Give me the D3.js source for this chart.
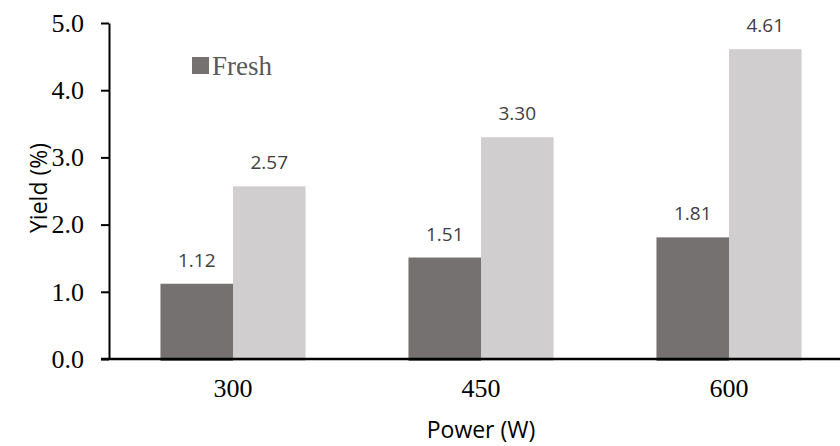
<!DOCTYPE html>
<html>
<head>
<meta charset="utf-8">
<script src="https://cdn.jsdelivr.net/npm/d3@7"></script>
<style>
  html, body { margin: 0; padding: 0; background: #fff; }
  svg { display: block; }
</style>
</head>
<body>
<svg id="chart" width="840" height="446"></svg>
<script>
// Yield of the two sample types at each microwave power level
const powers = ["300", "450", "600"];
const seriesNames = ["Fresh", "Dried"];
const freshYield = [1.12, 1.51, 1.81];
const driedYield = [2.57, 3.30, 4.61];
const yTicks = [0, 1, 2, 3, 4, 5];
const seriesColors = ["#767171", "#d0cece"];

const svg = d3.select("#chart");
const plot = { left: 109, top: 23, bottom: 359, right: 853 };

const x = d3.scaleBand()
  .domain(powers)
  .range([plot.left, plot.right])
  .paddingInner(0.415)
  .paddingOuter(0.2075);

const sub = d3.scaleBand()
  .domain(seriesNames)
  .range([0, x.bandwidth()]);

const y = d3.scaleLinear()
  .domain([0, 5])
  .range([plot.bottom, plot.top]);

const seriesData = [freshYield, driedYield];
const serif = "'Liberation Serif', 'Times New Roman', serif";
const sans = "'Open Sans', sans-serif";

// bars
seriesNames.forEach((name, si) => {
  const vals = seriesData[si];
  svg.append("g")
    .selectAll("rect")
    .data(powers)
    .join("rect")
    .attr("x", d => x(d) + sub(name))
    .attr("y", (d, i) => y(vals[i]))
    .attr("width", sub.bandwidth())
    .attr("height", (d, i) => y(0) - y(vals[i]) + 2)
    .attr("fill", seriesColors[si]);

  // value labels
  svg.append("g")
    .selectAll("text")
    .data(powers)
    .join("text")
    .attr("x", d => x(d) + sub(name) + sub.bandwidth() / 2)
    .attr("y", (d, i) => y(vals[i]) - 17)
    .attr("text-anchor", "middle")
    .attr("font-family", sans)
    .attr("font-size", 19)
    .attr("fill", "#404040")
    .text((d, i) => vals[i].toFixed(2));
});

// y axis
const yAxis = svg.append("g")
  .attr("transform", `translate(${plot.left},0)`)
  .call(d3.axisLeft(y).tickValues(yTicks).tickFormat(d3.format(".1f")).tickSize(8).tickSizeOuter(0).tickPadding(17));
yAxis.select(".domain").attr("stroke", "#000").attr("stroke-width", 2);
yAxis.selectAll(".tick line").attr("stroke", "#000").attr("stroke-width", 2);
yAxis.selectAll(".tick text")
  .attr("font-family", serif)
  .attr("font-size", 26)
  .attr("fill", "#000");

// x axis baseline
svg.append("line")
  .attr("x1", plot.left - 8).attr("x2", 840)
  .attr("y1", plot.bottom).attr("y2", plot.bottom)
  .attr("stroke", "#000").attr("stroke-width", 2.5);

// x tick labels
svg.append("g")
  .selectAll("text")
  .data(powers)
  .join("text")
  .attr("x", d => x(d) + x.bandwidth() / 2)
  .attr("y", 397)
  .attr("text-anchor", "middle")
  .attr("font-family", serif)
  .attr("font-size", 26)
  .attr("fill", "#000")
  .text(d => d);

// axis titles
svg.append("text")
  .attr("x", x("450") + x.bandwidth() / 2)
  .attr("y", 438)
  .attr("text-anchor", "middle")
  .attr("font-family", sans)
  .attr("font-size", 23)
  .attr("fill", "#000")
  .text("Power (W)");

svg.append("text")
  .attr("transform", `translate(47,188) rotate(-90)`)
  .attr("text-anchor", "middle")
  .attr("font-family", sans)
  .attr("font-size", 23)
  .attr("fill", "#000")
  .text("Yield (%)");

// legend
const legend = svg.append("g").attr("transform", "translate(192,57)");
legend.append("rect").attr("width", 17).attr("height", 17).attr("fill", seriesColors[0]);
legend.append("text")
  .attr("x", 20).attr("y", 18)
  .attr("font-family", serif)
  .attr("font-size", 27)
  .attr("fill", "#595959")
  .text(seriesNames[0]);
</script>
</body>
</html>
